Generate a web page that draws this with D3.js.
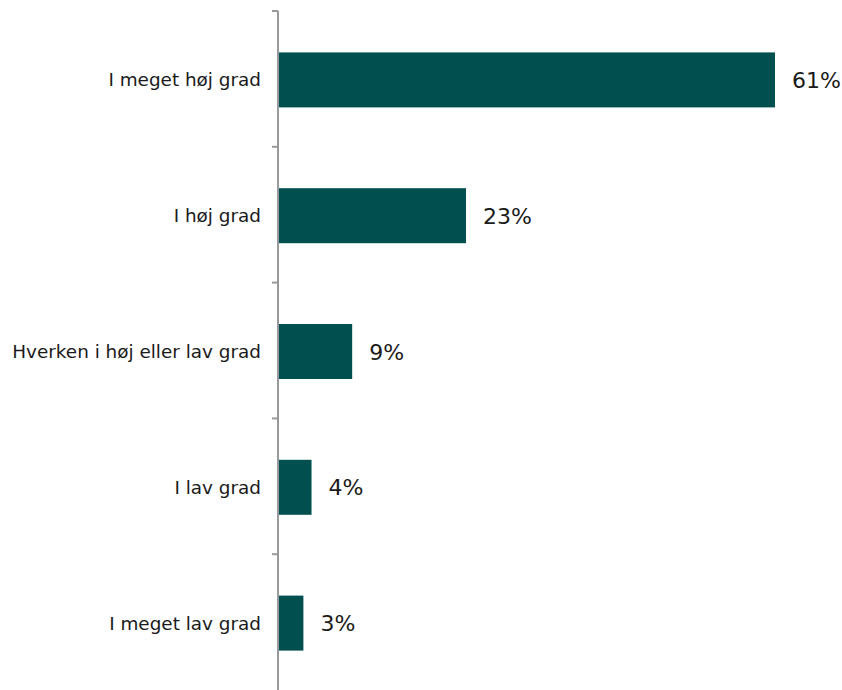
<!DOCTYPE html>
<html>
<head>
<meta charset="utf-8">
<script src="https://cdn.jsdelivr.net/npm/d3@7"></script>
<style>
  html, body { margin: 0; padding: 0; background: #fff; }
  svg { display: block; }
</style>
</head>
<body>
<svg id="chart" width="842" height="690"></svg>
<script>
// Survey answers and share of respondents (%)
const categories = [
  "I meget høj grad",
  "I høj grad",
  "Hverken i høj eller lav grad",
  "I lav grad",
  "I meget lav grad"
];
const values = [61, 23, 9, 4, 3];
const valueLabels = ["61%", "23%", "9%", "4%", "3%"];

const width = 842, height = 690;
const margin = { top: 12, right: 67, bottom: -1, left: 278 };

const svg = d3.select("#chart");
const g = svg.append("g").attr("transform", `translate(${margin.left},${margin.top})`);

const innerH = height - margin.top - margin.bottom;

const x = d3.scaleLinear().domain([0, 61]).range([1, 497]);
const y = d3.scaleBand().domain(categories).range([0, innerH]).paddingInner(0.595).paddingOuter(0.2975);

const data = categories.map((c, i) => ({ c, v: values[i], label: valueLabels[i] }));

// bars
g.selectAll("rect.bar")
  .data(data)
  .join("rect")
  .attr("class", "bar")
  .attr("x", x(0))
  .attr("y", d => y(d.c))
  .attr("width", d => x(d.v) - x(0))
  .attr("height", y.bandwidth())
  .attr("fill", "#01504f");

// value labels
g.selectAll("text.val")
  .data(data)
  .join("text")
  .attr("class", "val")
  .attr("x", d => x(d.v) + 17)
  .attr("y", d => y(d.c) + y.bandwidth() / 2)
  .attr("dy", "0.37em")
  .attr("font-family", "'DejaVu Sans', sans-serif")
  .attr("font-size", 22)
  .attr("fill", "#1a1a1a")
  .text(d => d.label);

// category axis with tick marks at the band boundaries
const axisG = g.append("g");
axisG.append("line")
  .attr("x1", 0).attr("x2", 0)
  .attr("y1", -1).attr("y2", innerH)
  .attr("stroke", "#999").attr("stroke-width", 2);

const step = y.step();
const bounds = d3.range(categories.length).map(i => i * step - 1);
axisG.selectAll("line.tick")
  .data(bounds)
  .join("line")
  .attr("class", "tick")
  .attr("x1", -6).attr("x2", 0)
  .attr("y1", d => d).attr("y2", d => d)
  .attr("stroke", "#999").attr("stroke-width", 2);

axisG.selectAll("text.cat")
  .data(categories)
  .join("text")
  .attr("class", "cat")
  .attr("x", -17)
  .attr("y", d => y(d) + y.bandwidth() / 2)
  .attr("dy", "0.35em")
  .attr("text-anchor", "end")
  .attr("font-family", "'DejaVu Sans', sans-serif")
  .attr("font-size", 18.4)
  .attr("fill", "#1a1a1a")
  .text(d => d);
</script>
</body>
</html>
